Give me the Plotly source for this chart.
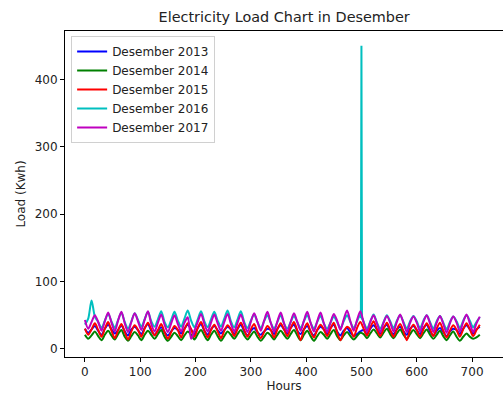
import plotly.graph_objects as go

# Hourly load readings for December, sampled every 6 hours (30 days)
hours = list(range(0, 720, 6))

load_2013 = [
    30, 24, 29, 34, 27, 21, 30, 36, 29, 23, 28, 35, 26, 20, 29, 33, 28, 22, 31, 37,
    27, 21, 27, 32, 25, 20, 26, 31, 28, 23, 30, 36, 29, 22, 31, 37, 27, 21, 29, 34,
    28, 23, 28, 33, 29, 22, 30, 36, 26, 20, 27, 31, 25, 21, 26, 30, 28, 22, 30, 35,
    29, 23, 31, 36, 27, 22, 29, 34, 26, 20, 28, 33, 29, 22, 31, 36, 26, 20, 27, 31,
    24, 19, 22, 26, 28, 22, 30, 35, 29, 23, 31, 36, 27, 22, 29, 33, 26, 21, 30, 34,
    28, 22, 31, 36, 26, 20, 27, 31, 25, 19, 26, 30, 28, 22, 30, 35, 29, 23, 29, 33,
]

load_2014 = [
    21, 15, 20, 26, 19, 13, 21, 27, 20, 14, 22, 28, 18, 12, 19, 25, 20, 13, 21, 27,
    21, 15, 22, 28, 18, 12, 18, 24, 19, 13, 20, 26, 21, 14, 22, 28, 20, 13, 21, 27,
    19, 12, 19, 26, 21, 15, 22, 28, 20, 14, 20, 26, 18, 12, 18, 24, 20, 14, 21, 27,
    21, 15, 22, 28, 20, 13, 21, 27, 19, 12, 19, 25, 21, 15, 22, 28, 19, 13, 20, 25,
    19, 14, 19, 24, 22, 16, 23, 29, 23, 17, 24, 30, 22, 16, 23, 29, 21, 15, 22, 28,
    22, 16, 23, 29, 21, 15, 21, 27, 19, 13, 20, 26, 18, 12, 18, 23, 18, 15, 17, 21,
]

load_2015 = [
    30, 21, 29, 38, 28, 18, 30, 40, 27, 16, 28, 37, 25, 14, 26, 35, 28, 18, 30, 39,
    29, 20, 28, 37, 25, 15, 25, 34, 28, 17, 29, 38, 29, 18, 31, 40, 27, 17, 28, 36,
    26, 16, 27, 35, 29, 19, 30, 39, 28, 18, 29, 37, 25, 16, 25, 34, 28, 17, 29, 38,
    29, 19, 31, 40, 27, 13, 29, 38, 26, 17, 28, 36, 29, 19, 30, 39, 25, 13, 25, 33,
    29, 18, 31, 40, 30, 20, 32, 41, 29, 19, 30, 39, 28, 18, 29, 37, 26, 13, 28, 36,
    28, 18, 29, 38, 29, 19, 30, 39, 27, 17, 27, 35, 28, 18, 29, 38, 29, 19, 28, 36,
]

load_2016 = [
    36, 45, 72, 48, 40, 31, 42, 52, 41, 31, 43, 54, 40, 30, 41, 53, 43, 33, 44, 55,
    41, 33, 44, 56, 40, 32, 43, 55, 42, 33, 45, 57, 42, 32, 44, 56, 41, 32, 44, 55,
    42, 33, 45, 57, 41, 32, 44, 56, 40, 31, 42, 51, 40, 31, 41, 50, 39, 30, 40, 50,
    38, 30, 40, 49, 40, 31, 41, 50, 39, 30, 40, 49, 38, 30, 39, 48, 40, 31, 41, 50,
    40, 31, 41, 50, 40, 30, 41, 51, 39, 30, 40, 50, 41, 31, 42, 50, 40, 30, 41, 49,
    41, 31, 42, 50, 40, 30, 41, 49, 39, 29, 40, 48, 41, 31, 42, 50, 42, 32, 40, 47,
]
# Short surge recorded in 2016, between the 498 h and 504 h readings
surge_hours = [499, 500, 501]
surge_load = [46, 450, 46]

load_2017 = [
    43, 30, 40, 50, 40, 27, 41, 54, 39, 26, 42, 55, 38, 25, 40, 53, 41, 28, 43, 56,
    37, 26, 39, 51, 36, 25, 38, 50, 37, 26, 39, 47, 15, 27, 40, 52, 37, 26, 39, 51,
    38, 27, 40, 52, 37, 26, 39, 51, 37, 25, 40, 53, 40, 27, 42, 55, 39, 26, 41, 54,
    38, 25, 40, 53, 40, 27, 42, 55, 39, 26, 41, 54, 38, 25, 39, 52, 42, 28, 44, 57,
    41, 27, 43, 56, 39, 26, 40, 50, 38, 25, 39, 49, 39, 26, 40, 51, 38, 25, 39, 48,
    39, 26, 40, 50, 38, 25, 39, 49, 37, 24, 38, 48, 39, 26, 40, 51, 38, 25, 38, 48,
]

series_names = ["Desember 2013", "Desember 2014", "Desember 2015", "Desember 2016", "Desember 2017"]
series_colors = ["#0000ff", "#008000", "#ff0000", "#00bfbf", "#bf00bf"]
series_y = [load_2013, load_2014, load_2015, load_2016, load_2017]

font_family = "DejaVu Sans"
text_color = "#222222"

fig = go.Figure()
for name, color, ys in zip(series_names, series_colors, series_y):
    fig.add_trace(go.Scatter(x=hours, y=ys, mode="lines", name=name,
                             line=dict(color=color, width=2, shape="spline", smoothing=0.8)))
    if name.endswith("2016"):
        # the surge is drawn with straight segments so the spike stays sharp
        i0 = hours.index(498)
        i1 = hours.index(504)
        fig.add_trace(go.Scatter(
            x=[hours[i0]] + surge_hours + [hours[i1]],
            y=[ys[i0]] + surge_load + [ys[i1]],
            mode="lines", showlegend=False, hoverinfo="skip",
            line=dict(color=color, width=2)))

axis_common = dict(
    showline=True, linecolor="#000000", linewidth=1, mirror=True,
    ticks="outside", ticklen=4, tickcolor="#000000",
    showgrid=False, zeroline=False,
    tickfont=dict(family=font_family, size=12, color=text_color),
)

fig.update_layout(
    width=503, height=394,
    margin=dict(l=65, r=0, t=31, b=37),
    paper_bgcolor="white", plot_bgcolor="white",
    title=dict(text="Electricity Load Chart in Desember", x=0.565, xanchor="center",
               y=0.957, yanchor="middle",
               font=dict(family=font_family, size=14.4, color=text_color)),
    xaxis=dict(range=[-36, 755.95], tickvals=[0, 100, 200, 300, 400, 500, 600, 700],
               title=dict(text="Hours", standoff=3,
                          font=dict(family=font_family, size=12, color=text_color)),
               **axis_common),
    yaxis=dict(range=[-12, 472], tickvals=[0, 100, 200, 300, 400],
               title=dict(text="Load (Kwh)", standoff=6,
                          font=dict(family=font_family, size=12, color=text_color)),
               **axis_common),
    legend=dict(x=0.014, y=0.985, xanchor="left", yanchor="top",
                bgcolor="rgba(255,255,255,0.9)", bordercolor="#d0d0d0", borderwidth=1,
                font=dict(family=font_family, size=12, color=text_color),
                tracegroupgap=0),
    showlegend=True,
)

fig.write_html("out.html")
